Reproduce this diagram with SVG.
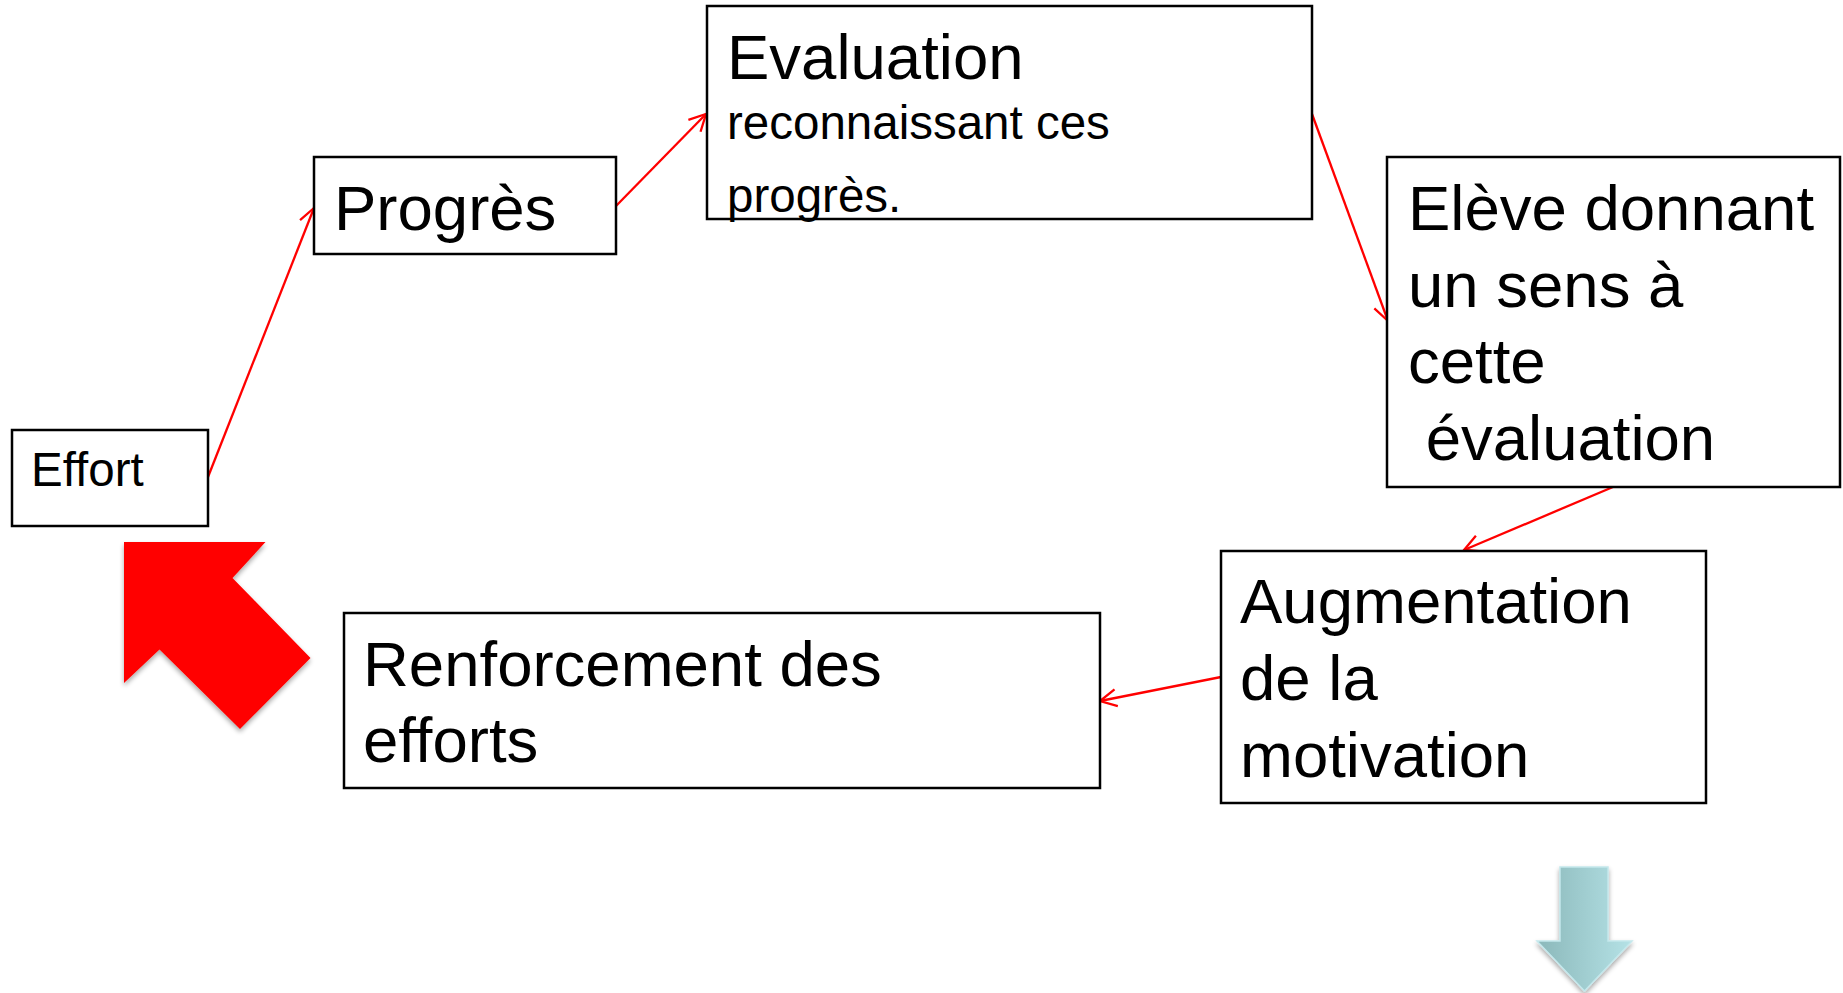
<svg xmlns="http://www.w3.org/2000/svg" width="1843" height="993" viewBox="0 0 1843 993">
<style>
.box{fill:#fff;stroke:#000;stroke-width:2.5}
.t{font-family:"Liberation Sans",Arial,sans-serif;fill:#000}
.big{font-size:63.5px}
.sm{font-size:47.5px}
.con{fill:none;stroke:#ff0000;stroke-width:2.3}
</style>
<defs>
<marker id="ah" markerUnits="userSpaceOnUse" markerWidth="24" markerHeight="24" refX="18" refY="10" orient="auto" viewBox="0 0 24 20">
<path d="M1.5,1.5 L18,10 L1.5,18.5" fill="none" stroke="#ff0000" stroke-width="2.3"/>
</marker>
<linearGradient id="teal" x1="0" y1="0" x2="1" y2="0">
<stop offset="0" stop-color="#8bb8ba"/>
<stop offset="1" stop-color="#b5e2e6"/>
</linearGradient>
<filter id="sh" x="-20%" y="-20%" width="140%" height="140%">
<feGaussianBlur in="SourceAlpha" stdDeviation="2.5"/>
<feOffset dx="0" dy="3" result="b"/>
<feComponentTransfer><feFuncA type="linear" slope="0.35"/></feComponentTransfer>
<feMerge><feMergeNode/><feMergeNode in="SourceGraphic"/></feMerge>
</filter>
</defs>
<rect width="1843" height="993" fill="#fff"/>
<g id="connectors">
<line class="con" x1="208" y1="477" x2="314" y2="208" marker-end="url(#ah)"/>
<line class="con" x1="616" y1="206" x2="706" y2="114" marker-end="url(#ah)"/>
<line class="con" x1="1312" y1="114" x2="1388" y2="321" marker-end="url(#ah)"/>
<line class="con" x1="1613" y1="487" x2="1464" y2="550" marker-end="url(#ah)"/>
<line class="con" x1="1221" y1="677" x2="1100" y2="701" marker-end="url(#ah)"/>
</g>
<g id="effort">
<rect class="box" x="12" y="430" width="196" height="96"/>
<text class="t sm" x="31" y="486">Effort</text>
</g>
<g id="progres">
<rect class="box" x="314" y="157" width="302" height="97"/>
<text class="t big" x="334" y="230">Progrès</text>
</g>
<g id="evaluation">
<rect class="box" x="707" y="6" width="605" height="213"/>
<text class="t big" x="727" y="79">Evaluation</text>
<text class="t sm" x="727" y="139">reconnaissant ces</text>
<text class="t sm" x="727" y="212">progrès.</text>
</g>
<g id="eleve">
<rect class="box" x="1387" y="157" width="453" height="330"/>
<text class="t big" x="1408" y="230">Elève donnant</text>
<text class="t big" x="1408" y="307">un sens à</text>
<text class="t big" x="1408" y="383">cette</text>
<text class="t big" x="1408" y="460" xml:space="preserve"> évaluation</text>
</g>
<g id="augmentation">
<rect class="box" x="1221" y="551" width="485" height="252"/>
<text class="t big" x="1240" y="623">Augmentation</text>
<text class="t big" x="1240" y="700">de la</text>
<text class="t big" x="1240" y="777">motivation</text>
</g>
<g id="renforcement">
<rect class="box" x="344" y="613" width="756" height="175"/>
<text class="t big" x="363" y="686">Renforcement des</text>
<text class="t big" x="363" y="762">efforts</text>
</g>
<g id="red-arrow">
<polygon points="124,542 265.5,542 232.5,578 310.5,658 240,729 159.5,649.5 124,683" fill="#ff0000" filter="url(#sh)"/>
</g>
<g id="teal-arrow">
<polygon points="1560,867 1608,867 1608,941 1632,941 1584.5,991 1537,941 1560,941" fill="url(#teal)" stroke="#c4e8ec" stroke-width="1.5" filter="url(#sh)"/>
</g>
</svg>
